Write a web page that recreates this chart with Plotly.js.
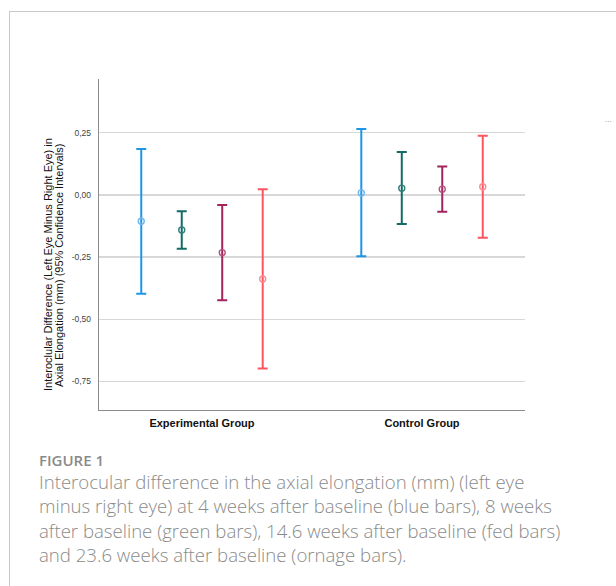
<!DOCTYPE html>
<html>
<head>
<meta charset="utf-8">
<script src="https://cdn.plot.ly/plotly-3.0.1.min.js"></script>
<style>
  html, body { margin: 0; padding: 0; background: #ffffff; }
  body { width: 616px; height: 586px; position: relative; overflow: hidden; }
  #frame { position: absolute; left: 9px; top: 11px; width: 700px; height: 700px;
           border-left: 1.5px solid #c9c9c9; border-top: 1.5px solid #c9c9c9; }
  #chart { position: absolute; left: 0; top: 0; width: 616px; height: 586px; }
  .cap { position: absolute; left: 39px; white-space: nowrap; color: #8a8a8a;
         font-family: "Open Sans", "Noto Sans", sans-serif; }
  #figlabel { top: 450px; font-size: 15px; font-weight: 600; color: #8a8a8a; }
  .line { font-size: 18.6px; font-weight: 300; line-height: 22px; }
</style>
</head>
<body>
<div id="frame"></div>
<div id="chart"></div>
<div class="cap" id="figlabel">FIGURE 1</div>
<div class="cap line" style="top:471px">Interocular difference in the axial elongation (mm) (left eye</div>
<div class="cap line" style="top:495px">minus right eye) at 4 weeks after baseline (blue bars), 8 weeks</div>
<div class="cap line" style="top:520px">after baseline (green bars), 14.6 weeks after baseline (fed bars)</div>
<div class="cap line" style="top:544px">and 23.6 weeks after baseline (ornage bars).</div>
<script>
// ---- data ----
const groups = ["Experimental Group", "Control Group"];
const seriesNames = ["4 weeks", "8 weeks", "14.6 weeks", "23.6 weeks"];
const seriesColors = ["#1e96e6", "#136b66", "#a2245c", "#fb5560"];
const markerColors = ["#6cb8ef", "#2f7f7a", "#b8507e", "#fd8a92"];
// means
const mean4w   = [-0.106, 0.008];
const mean8w   = [-0.141, 0.027];
const mean14w  = [-0.232, 0.023];
const mean23w  = [-0.338, 0.033];
// upper 95% CI
const upper4w  = [0.185, 0.265];
const upper8w  = [-0.066, 0.172];
const upper14w = [-0.041, 0.114];
const upper23w = [0.023, 0.238];
// lower 95% CI
const lower4w  = [-0.398, -0.247];
const lower8w  = [-0.217, -0.117];
const lower14w = [-0.424, -0.068];
const lower23w = [-0.698, -0.172];
// y tick labels
const yTickVals = [0.25, 0, -0.25, -0.5, -0.75];
const yTickText = ["0,25", "0,00", "-0,25", "-0,50", "-0,75"];

const means = [mean4w, mean8w, mean14w, mean23w];
const uppers = [upper4w, upper8w, upper14w, upper23w];
const lowers = [lower4w, lower8w, lower14w, lower23w];

const traces = means.map((m, i) => ({
  type: "scatter",
  mode: "markers",
  name: seriesNames[i],
  x: groups,
  y: m,
  marker: { symbol: "circle-open", size: 6, color: markerColors[i], line: { width: 1.4, color: markerColors[i] } },
  error_y: {
    type: "data",
    symmetric: false,
    array: uppers[i].map((u, k) => u - m[k]),
    arrayminus: m.map((v, k) => v - lowers[i][k]),
    color: seriesColors[i],
    thickness: 2,
    width: 5
  },
  cliponaxis: false,
  showlegend: false
}));

const axisFont = "Liberation Sans, Arial, sans-serif";

const layout = {
  width: 616,
  height: 586,
  margin: { l: 99, r: 91, t: 79, b: 176 },
  paper_bgcolor: "rgba(0,0,0,0)",
  plot_bgcolor: "rgba(0,0,0,0)",
  scattermode: "group",
  scattergap: 0.264,
  showlegend: false,
  xaxis: {
    type: "category",
    range: [-0.468, 1.468],
    showgrid: false,
    zeroline: false,
    showline: true,
    linecolor: "#8c8c8c",
    linewidth: 1.3,
    ticks: "",
    ticklabelstandoff: 2,
    tickfont: { family: axisFont, size: 11, color: "#111111", weight: "bold" },
    fixedrange: true
  },
  yaxis: {
    range: [-0.865, 0.466],
    tickmode: "array",
    tickvals: yTickVals,
    ticktext: yTickText,
    showgrid: true,
    gridcolor: "#d8d8d8",
    gridwidth: 1.4,
    zeroline: false,
    showline: true,
    linecolor: "#8c8c8c",
    linewidth: 1.3,
    ticks: "",
    ticklabelstandoff: 5,
    tickfont: { family: axisFont, size: 8.5, color: "#444444" },
    fixedrange: true
  },
  annotations: [
    { text: "Interoclular Difference (Left Eye Minus Right Eye) in", xref: "paper", yref: "paper",
      x: -0.1197, y: 0.438, xanchor: "center", yanchor: "middle", textangle: -90, showarrow: false,
      font: { family: axisFont, size: 11, color: "#111111" } },
    { text: "Axial Elongation (mm) (95% Confidence Intervals)", xref: "paper", yref: "paper",
      x: -0.0939, y: 0.438, xanchor: "center", yanchor: "middle", textangle: -90, showarrow: false,
      font: { family: axisFont, size: 11, color: "#111111" } },
    { text: "...", xref: "paper", yref: "paper", x: 1.197, y: 0.878, xanchor: "center", yanchor: "middle",
      showarrow: false, font: { family: axisFont, size: 8, color: "#8a8a8a" } }
  ]
};

Plotly.newPlot("chart", traces, layout, { displayModeBar: false, staticPlot: true });
</script>
</body>
</html>
